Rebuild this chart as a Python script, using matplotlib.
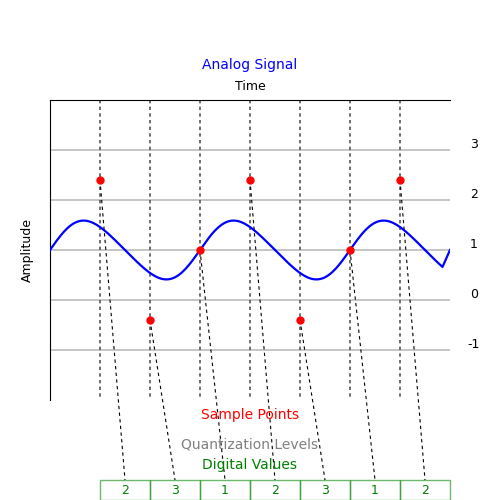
import numpy as np
import matplotlib
matplotlib.use("Agg")
import matplotlib.pyplot as plt
from matplotlib.patches import Rectangle

sample_t = [1, 2, 3, 4, 5, 6, 7]
sample_v = [2.4, -0.4, 1.0, 2.4, -0.4, 1.0, 2.4]
digital = [2, 3, 1, 2, 3, 1, 2]
levels = [-1, 0, 1, 2, 3]

t = np.linspace(0, 7.85, 400)
w = 2 * np.pi / 3
sig = 1 + 0.58 * np.sin(w * t) + 0.05 * np.sin(2 * w * t)
t = np.append(t, 8.0)
sig = np.append(sig, 1.0)

fig = plt.figure(figsize=(5, 5), dpi=100)
ax = fig.add_axes([0.1, 0.2, 0.8, 0.6])
ax.set_xlim(0, 8)
ax.set_ylim(-2, 4)
for s in ['right', 'bottom']:
    ax.spines[s].set_visible(False)
ax.set_xticks([]); ax.set_yticks([])

for lv in levels:
    ax.axhline(lv, color='#bbbbbb', lw=1.2, zorder=0)
    ax.text(8.48, lv + 0.1, str(lv), ha='center', va='center', fontsize=9)
for st in sample_t:
    ax.plot([st, st], [4, -1.96], color='#555555', ls=(0, (2, 2)), lw=1.2, zorder=1)

ax.plot(t, sig, color='blue', lw=1.6, zorder=3)
ax.plot(sample_t, sample_v, 'o', color='red', ms=5, zorder=4)

for i, (st, sv) in enumerate(zip(sample_t, sample_v)):
    ax.plot([st, st + 0.5], [sv, -3.6], color='black', lw=0.8, ls=(0, (3, 3)), clip_on=False, zorder=2)
    ax.add_patch(Rectangle((st, -4), 1, 0.4, fill=False, edgecolor='#2e9a2e', alpha=0.7, lw=1, clip_on=False))
    ax.text(st + 0.5, -3.8, str(digital[i]), color='green', ha='center', va='center', fontsize=9, clip_on=False)

ax.text(4, 4.7, 'Analog Signal', color='blue', ha='center', va='center', fontsize=10)
ax.text(4, 4.28, 'Time', color='black', ha='center', va='center', fontsize=9)
ax.text(4, -2.3, 'Sample Points', color='red', ha='center', va='center', fontsize=10)
ax.text(4, -2.9, 'Quantization Levels', color='gray', ha='center', va='center', fontsize=10)
ax.text(4, -3.3, 'Digital Values', color='green', ha='center', va='center', fontsize=10)
ax.text(-0.46, 1.0, 'Amplitude', rotation=90, ha='center', va='center', fontsize=9)

fig.savefig('out.png', dpi=100)
